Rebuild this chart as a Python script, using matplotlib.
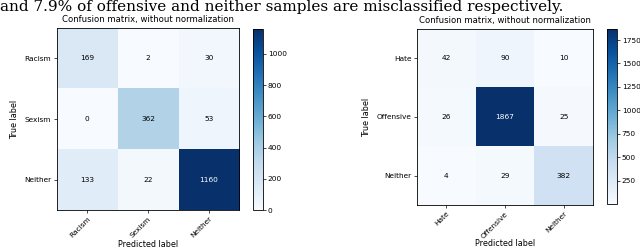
import matplotlib
matplotlib.use("Agg")
import matplotlib.pyplot as plt
import numpy as np

# confusion matrices
left_classes = ["Racism", "Sexism", "Neither"]
left_cm = [[169, 2, 30],
           [0, 362, 53],
           [133, 22, 1160]]
left_ticks = [0, 200, 400, 600, 800, 1000]

right_classes = ["Hate", "Offensive", "Neither"]
right_cm = [[42, 90, 10],
            [26, 1867, 25],
            [4, 29, 382]]
right_ticks = [250, 500, 750, 1000, 1250, 1500, 1750]

caption = "and 7.9% of offensive and neither samples are misclassified respectively."

FS = 5.3


def plot_cm(fig, ax_rect, cb_rect, cm, classes, cticks, xpad):
    cm = np.array(cm)
    ax = fig.add_axes(ax_rect)
    cax = fig.add_axes(cb_rect)
    im = ax.imshow(cm, interpolation="nearest", cmap=plt.cm.Blues, aspect="auto")
    ax.set_title("Confusion matrix, without normalization", fontsize=6.1, pad=4)
    cb = fig.colorbar(im, cax=cax, ticks=cticks)
    cb.ax.tick_params(labelsize=FS, length=2, width=0.5, pad=1.5)
    cb.outline.set_linewidth(0.6)
    marks = np.arange(len(classes))
    ax.set_xticks(marks)
    ax.set_xticklabels(classes, rotation=45, ha="right", rotation_mode="anchor")
    ax.set_yticks(marks)
    ax.set_yticklabels(classes)
    ax.tick_params(labelsize=FS, length=2, width=0.5, pad=2)
    for s in ax.spines.values():
        s.set_linewidth(0.6)
    thresh = cm.max() / 2.0
    for i in range(cm.shape[0]):
        for j in range(cm.shape[1]):
            ax.text(j, i, str(cm[i, j]), ha="center", va="center", fontsize=FS,
                    color="white" if cm[i, j] > thresh else "black")
    ax.set_ylabel("True label", fontsize=FS + 0.5, labelpad=4)
    ax.set_xlabel("Predicted label", fontsize=FS + 0.5, labelpad=xpad)
    return ax


fig = plt.figure(figsize=(6.4, 2.48), dpi=100)

plot_cm(fig, [0.0891, 0.1532, 0.2844, 0.7339], [0.3953, 0.1532, 0.0156, 0.7298],
        left_cm, left_classes, left_ticks, 1)
plot_cm(fig, [0.6516, 0.1734, 0.275, 0.7097], [0.9484, 0.1774, 0.0156, 0.7056],
        right_cm, right_classes, right_ticks, 0)

fig.text(0.0, 1 - 11 / 248, caption, fontsize=11, family="DejaVu Serif",
         ha="left", va="baseline")

fig.savefig("out.png", dpi=100)
